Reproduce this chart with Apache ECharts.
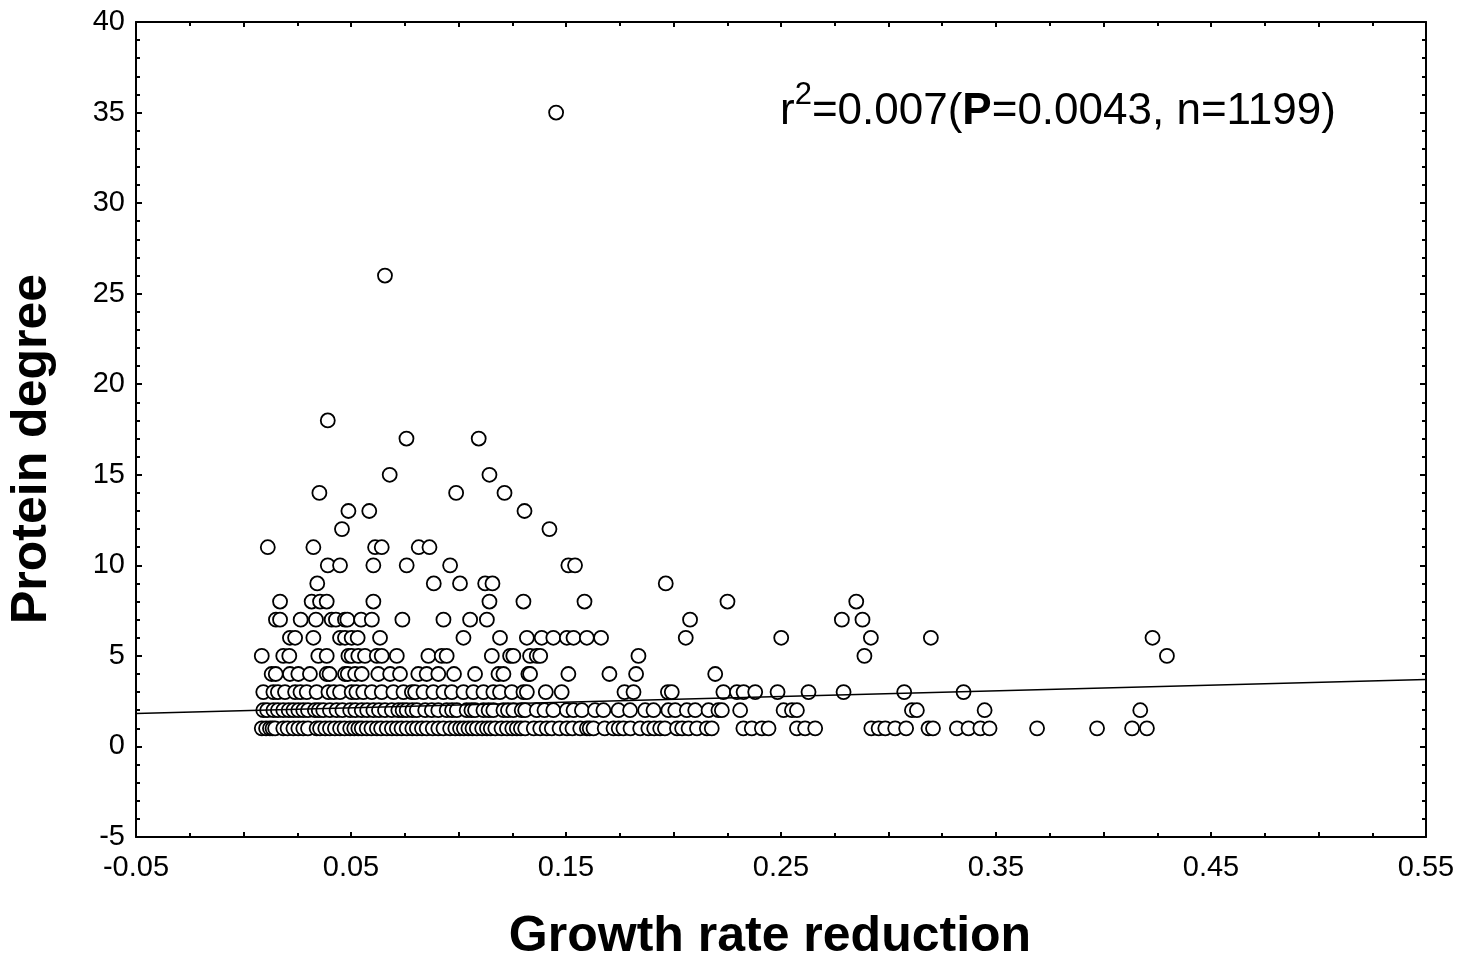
<!DOCTYPE html>
<html>
<head>
<meta charset="utf-8">
<script src="https://cdn.jsdelivr.net/npm/echarts/dist/echarts.min.js"></script>
<style>
html,body{margin:0;padding:0;background:#fff;}
#chart{width:1478px;height:961px;}
</style>
</head>
<body>
<div id="chart"></div>
<script>
// ---- data ----
const xAxisLabelTicks = [-0.05, 0.05, 0.15, 0.25, 0.35, 0.45, 0.55];
const yAxisLabelTicks = [-5, 0, 5, 10, 15, 20, 25, 30, 35, 40];
const xTitle = 'Growth rate reduction';
const yTitle = 'Protein degree';

// growth-rate-reduction values of proteins with degree 1
const degree1 = [0.0085, 0.0105, 0.0123, 0.0135, 0.0147, 0.0185, 0.0205, 0.0232, 0.0255, 0.0278, 0.0300, 0.0340,
  0.0356, 0.0380, 0.0402, 0.0425, 0.0449, 0.0470, 0.0496, 0.0515, 0.0534, 0.0550, 0.0573, 0.0595, 0.0620, 0.0640,
  0.0666, 0.0690, 0.0713, 0.0735, 0.0759, 0.0785, 0.0806, 0.0830, 0.0852, 0.0880, 0.0906, 0.0930, 0.0961, 0.0985,
  0.1007, 0.1025, 0.1046, 0.1065, 0.1085, 0.1110, 0.1132, 0.1150, 0.1171, 0.1200, 0.1225, 0.1250, 0.1271, 0.1290,
  0.1310, 0.1350, 0.1380, 0.1410, 0.1434, 0.1470, 0.1504, 0.1530, 0.1566, 0.1597, 0.1610, 0.1628, 0.1680, 0.1721,
  0.1745, 0.1767, 0.1800, 0.1845, 0.1883, 0.1910, 0.1938, 0.1960, 0.2016, 0.2040, 0.2070, 0.2109, 0.2155, 0.2178,
  0.2325, 0.2364, 0.2411, 0.2442, 0.2574, 0.2612, 0.2659, 0.2920, 0.2954, 0.2985, 0.3031, 0.3082, 0.3186, 0.3207,
  0.3318, 0.3372, 0.3427, 0.3470, 0.3691, 0.3970, 0.4133, 0.4202];
// degree 2
const degree2 = [0.0092, 0.0110, 0.0139, 0.0160, 0.0185, 0.0210, 0.0232, 0.0255, 0.0278, 0.0300, 0.0332, 0.0350,
  0.0371, 0.0402, 0.0433, 0.0460, 0.0496, 0.0520, 0.0550, 0.0575, 0.0604, 0.0630, 0.0658, 0.0690, 0.0720, 0.0740,
  0.0759, 0.0785, 0.0806, 0.0845, 0.0876, 0.0906, 0.0945, 0.0970, 0.0992, 0.1038, 0.1060, 0.1077, 0.1116, 0.1140,
  0.1162, 0.1209, 0.1230, 0.1255, 0.1294, 0.1310, 0.1364, 0.1400, 0.1441, 0.1504, 0.1535, 0.1574, 0.1635, 0.1674,
  0.1744, 0.1798, 0.1868, 0.1907, 0.1976, 0.2008, 0.2062, 0.2101, 0.2163, 0.2209, 0.2225, 0.2310, 0.2512, 0.2551,
  0.2574, 0.3109, 0.3132, 0.3447, 0.4171];
// degree 3
const degree3 = [0.0092, 0.0139, 0.0160, 0.0193, 0.0240, 0.0265, 0.0294, 0.0340, 0.0395, 0.0420, 0.0449, 0.0503,
  0.0525, 0.0557, 0.0597, 0.0643, 0.0697, 0.0744, 0.0783, 0.0798, 0.0837, 0.0883, 0.0930, 0.0969, 0.1023, 0.1069,
  0.1116, 0.1162, 0.1193, 0.1248, 0.1302, 0.1318, 0.1406, 0.1480, 0.1772, 0.1814, 0.1974, 0.1992, 0.2232, 0.2295,
  0.2326, 0.2380, 0.2484, 0.2628, 0.2791, 0.3073, 0.3349];
// degree 4
const degree4 = [0.0131, 0.0150, 0.0216, 0.0255, 0.0309, 0.0387, 0.0400, 0.0472, 0.0485, 0.0519, 0.0550, 0.0627,
  0.0682, 0.0728, 0.0813, 0.0852, 0.0906, 0.0979, 0.1077, 0.1186, 0.1209, 0.1325, 0.1333, 0.1511, 0.1702, 0.1826,
  0.2194];
// degree 5
const degree5 = [0.0085, 0.0185, 0.0213, 0.0348, 0.0387, 0.0488, 0.0503, 0.0534, 0.0565, 0.0620, 0.0643, 0.0713,
  0.0860, 0.0922, 0.0945, 0.1155, 0.1240, 0.1255, 0.1333, 0.1364, 0.1380, 0.1837, 0.2888, 0.4295];
// degree 6
const degree6 = [0.0216, 0.0240, 0.0325, 0.0449, 0.0472, 0.0503, 0.0531, 0.0635, 0.1023, 0.1193, 0.1318, 0.1387,
  0.1441, 0.1504, 0.1535, 0.1597, 0.1663, 0.2057, 0.2501, 0.2918, 0.3197, 0.4228];
// degree 7
const degree7 = [0.0151, 0.0170, 0.0266, 0.0337, 0.0410, 0.0430, 0.0472, 0.0483, 0.0547, 0.0597, 0.0739, 0.0930,
  0.1054, 0.1132, 0.2077, 0.2783, 0.2879];
// degree 8
const degree8 = [0.0170, 0.0317, 0.0356, 0.0387, 0.0604, 0.1144, 0.1302, 0.1586, 0.2251, 0.2850];
// degree 9
const degree9 = [0.0343, 0.0885, 0.1007, 0.1124, 0.1158, 0.1964];
// degree 10
const degree10 = [0.0392, 0.0449, 0.0604, 0.0759, 0.0961, 0.1511, 0.1542];
// degree 11
const degree11 = [0.0113, 0.0325, 0.0612, 0.0643, 0.0815, 0.0865];
// high-degree proteins [growth rate reduction, degree]
const highDegree = [[0.0458, 12], [0.1423, 12], [0.0488, 13], [0.0585, 13], [0.1307, 13],
  [0.0353, 14], [0.0989, 14], [0.1214, 14], [0.0680, 15], [0.1144, 15],
  [0.0758, 17], [0.1094, 17], [0.0392, 18], [0.0658, 26], [0.1454, 35]];

// fitted regression line endpoints
const fitLine = [[-0.05, 1.82], [0.55, 3.70]];

const annotation = '{a|r}{s|2}{a|=0.007(}{b|P}{a|=0.0043, n=1199)}';

// ---- build ----
const byDegree = [degree1, degree2, degree3, degree4, degree5, degree6, degree7, degree8, degree9, degree10, degree11];
const scatterData = [];
byDegree.forEach((xs, i) => xs.forEach(x => scatterData.push([x, i + 1])));
highDegree.forEach(p => scatterData.push(p));

const FONT = '"Liberation Sans", Arial, sans-serif';
const axisLine = { show: true, onZero: false, lineStyle: { color: '#000', width: 2 } };

const chart = echarts.init(document.getElementById('chart'), null, { renderer: 'canvas' });
chart.setOption({
  animation: false,
  backgroundColor: '#fff',
  grid: { left: 136, right: 52, top: 22, bottom: 124 },
  xAxis: [{
    type: 'value', min: -0.05, max: 0.55, interval: 0.05, position: 'bottom',
    axisLine: axisLine,
    axisTick: { show: true, inside: true, length: 5, lineStyle: { color: '#000', width: 2 } },
    minorTick: { show: true, splitNumber: 2, length: 4, lineStyle: { color: '#000', width: 2 } },
    splitLine: { show: false },
    axisLabel: {
      color: '#000', fontSize: 29, fontFamily: FONT, margin: 16,
      formatter: function (v) {
        const hit = xAxisLabelTicks.some(t => Math.abs(t - v) < 1e-6);
        return hit ? v.toFixed(2) : '';
      }
    }
  }, {
    type: 'value', min: -0.05, max: 0.55, interval: 0.05, position: 'top',
    axisLine: axisLine,
    axisTick: { show: true, inside: true, length: 5, lineStyle: { color: '#000', width: 2 } },
    minorTick: { show: true, splitNumber: 2, length: 4, lineStyle: { color: '#000', width: 2 } },
    splitLine: { show: false }, axisLabel: { show: false }
  }],
  yAxis: [{
    type: 'value', min: -5, max: 40, interval: 5, position: 'left',
    axisLine: axisLine,
    axisTick: { show: true, inside: true, length: 6, lineStyle: { color: '#000', width: 2 } },
    minorTick: { show: true, splitNumber: 5, length: 4, lineStyle: { color: '#000', width: 2 } },
    splitLine: { show: false },
    axisLabel: {
      color: '#000', fontSize: 29, fontFamily: FONT, margin: 11,
      formatter: function (v) { return yAxisLabelTicks.indexOf(v) >= 0 ? String(v) : ''; }
    }
  }, {
    type: 'value', min: -5, max: 40, interval: 5, position: 'right',
    axisLine: axisLine,
    axisTick: { show: true, inside: true, length: 6, lineStyle: { color: '#000', width: 2 } },
    minorTick: { show: true, splitNumber: 5, length: 4, lineStyle: { color: '#000', width: 2 } },
    splitLine: { show: false }, axisLabel: { show: false }
  }],
  series: [{
    type: 'scatter', xAxisIndex: 0, yAxisIndex: 0,
    data: scatterData, symbol: 'circle', symbolSize: 14,
    itemStyle: { color: '#fff', borderColor: '#000', borderWidth: 1.8, opacity: 1 },
    emphasis: { disabled: true }, z: 2
  }, {
    type: 'line', xAxisIndex: 0, yAxisIndex: 0,
    data: fitLine, symbol: 'none',
    lineStyle: { color: '#000', width: 1.6 }, z: 3
  }],
  graphic: [{
    type: 'text', left: 780, top: 80, z: 10,
    style: {
      text: annotation, fill: '#000',
      rich: {
        a: { fontSize: 44, fontFamily: FONT, lineHeight: 64, fill: '#000' },
        s: { fontSize: 31, fontFamily: FONT, lineHeight: 30, verticalAlign: 'top', fill: '#000' },
        b: { fontSize: 44, fontFamily: FONT, fontWeight: 'bold', lineHeight: 64, fill: '#000' }
      }
    }
  }, {
    type: 'text', x: 770, y: 937, z: 10,
    style: {
      text: xTitle, fill: '#000', font: 'bold 50px ' + FONT,
      align: 'center', verticalAlign: 'middle', textAlign: 'center', textVerticalAlign: 'middle'
    }
  }, {
    type: 'text', x: 32, y: 449, rotation: Math.PI / 2, z: 10,
    style: {
      text: yTitle, fill: '#000', font: 'bold 50px ' + FONT,
      align: 'center', verticalAlign: 'middle', textAlign: 'center', textVerticalAlign: 'middle'
    }
  }]
});
</script>
</body>
</html>
